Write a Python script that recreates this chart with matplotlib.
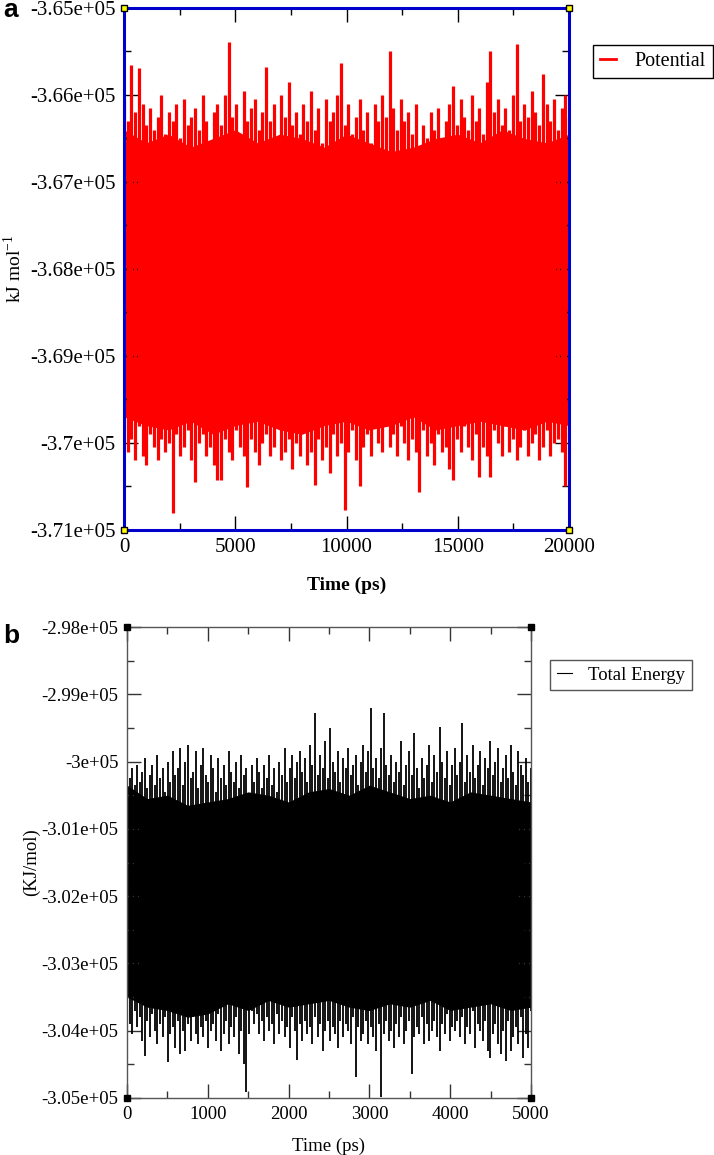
import numpy as np
import matplotlib
matplotlib.use('Agg')
import matplotlib.pyplot as plt
from matplotlib.lines import Line2D
from matplotlib.ticker import MultipleLocator, FuncFormatter

plt.rcParams['font.family'] = ['Liberation Serif', 'DejaVu Serif']
plt.rcParams['mathtext.fontset'] = 'custom'
plt.rcParams['mathtext.rm'] = 'Liberation Serif'

# panel a: potential energy (x1000 kJ/mol), highest and lowest value in each time slot, 0-20000 ps
pot_t_end = 20000
pot_upper = [
    -366.05, -366.30, -365.66, -366.20, -365.69, -366.10, -366.35, -366.15, -366.40, -366.25,
    -366.00, -366.45, -366.20, -366.30, -366.10, -366.50, -366.05, -366.35, -366.25, -366.15,
    -366.40, -366.00, -366.30, -366.60, -366.20, -366.10, -366.35, -366.00, -365.39, -366.25,
    -366.10, -366.45, -365.95, -366.30, -366.15, -366.05, -366.40, -366.20, -365.68, -366.30,
    -366.10, -366.50, -366.00, -366.25, -365.85, -366.35, -366.20, -366.45, -366.10, -366.30,
    -365.95, -366.40, -366.15, -366.55, -366.05, -366.30, -366.20, -366.00, -365.63, -366.35,
    -366.10, -366.45, -366.25, -366.05, -366.40, -366.20, -366.55, -366.10, -366.30, -366.00,
    -366.25, -365.50, -366.15, -366.40, -366.05, -366.30, -366.20, -366.45, -366.10, -366.60,
    -366.35, -366.50, -366.20, -366.40, -366.15, -366.55, -366.30, -366.10, -365.90, -366.35,
    -366.05, -366.25, -366.40, -366.00, -366.30, -366.15, -366.45, -365.85, -365.50, -366.20,
    -366.05, -366.35, -366.15, -366.40, -366.00, -365.41, -366.30, -366.10, -366.25, -365.95,
    -366.20, -366.35, -365.76, -366.10, -366.30, -366.05, -366.40, -366.15, -366.00, -366.25,
]
pot_lower = [
    -369.85, -370.10, -369.95, -370.20, -369.80, -370.15, -370.25, -369.90, -370.05, -370.20,
    -369.95, -370.10, -370.00, -370.80, -369.90, -370.15, -370.05, -369.85, -370.20, -370.45,
    -370.00, -369.90, -370.15, -370.05, -370.25, -370.43, -370.43, -369.95, -370.10, -370.20,
    -369.85, -370.05, -370.15, -370.51, -369.95, -370.10, -370.25, -370.00, -369.90, -370.15,
    -370.05, -369.80, -370.20, -370.10, -369.95, -370.30, -370.00, -370.15, -369.85, -370.25,
    -370.10, -370.48, -369.95, -370.20, -370.05, -370.35, -369.90, -370.15, -370.00, -370.77,
    -370.10, -369.85, -370.20, -370.50, -370.05, -369.90, -370.15, -369.80, -370.00, -370.10,
    -369.75, -370.05, -369.90, -370.15, -369.80, -370.00, -370.20, -369.95, -370.10, -370.56,
    -369.85, -370.15, -370.00, -370.25, -369.90, -370.10, -370.05, -370.30, -370.43, -369.95,
    -370.10, -369.80, -370.05, -370.20, -369.90, -370.39, -370.05, -370.15, -370.39, -369.85,
    -370.00, -370.15, -369.80, -370.10, -369.95, -370.20, -370.05, -369.85, -370.15, -370.00,
    -369.90, -370.20, -370.05, -369.85, -370.15, -370.00, -369.95, -370.10, -370.50, -369.95,
]
# edges of the solid part of the trace, every 1000 ps
pot_core_top = [-366.40, -366.55, -366.45, -366.60, -366.50, -366.40, -366.55, -366.45, -366.50,
                -366.60, -366.45, -366.55, -366.65, -366.60, -366.50, -366.45, -366.55, -366.40,
                -366.50, -366.55, -366.45]
pot_core_bot = [-369.70, -369.80, -369.85, -369.75, -369.90, -369.80, -369.75, -369.85, -369.90,
                -369.80, -369.75, -369.85, -369.80, -369.70, -369.85, -369.80, -369.75, -369.80,
                -369.85, -369.75, -369.80]

# panel b: total energy (x1000 kJ/mol), 0-5000 ps
tot_t_end = 5000
tot_upper = [
    -300.00, -300.25, -300.10, -300.35, -300.05, -300.30, -300.15, -299.95, -300.40, -300.20,
    -300.05, -300.35, -299.90, -300.25, -300.10, -300.45, -300.00, -300.30, -299.85, -300.20,
    -300.10, -299.80, -300.35, -300.00, -299.75, -300.25, -300.15, -299.85, -300.40, -300.05,
    -299.80, -300.20, -300.30, -299.90, -300.10, -300.45, -299.95, -300.25, -300.05, -300.35,
    -299.85, -300.15, -300.30, -300.00, -300.40, -299.90, -300.20, -300.10, -300.50, -300.05,
    -300.30, -299.95, -300.15, -300.40, -300.05, -300.25, -299.90, -300.35, -300.10, -300.45,
    -300.00, -300.20, -299.80, -300.30, -300.10, -299.90, -300.25, -300.00, -299.85, -300.15,
    -299.95, -300.30, -299.75, -300.05, -299.28, -300.20, -299.90, -300.10, -299.70, -300.25,
    -299.50, -300.00, -300.15, -299.85, -300.30, -299.95, -300.10, -299.80, -300.20, -300.05,
    -299.90, -300.35, -300.00, -299.75, -300.15, -299.85, -299.20, -300.10, -299.95, -300.25,
    -299.80, -299.28, -300.05, -300.20, -299.90, -300.30, -300.00, -300.15, -299.70, -300.35,
    -300.05, -299.85, -300.20, -299.58, -300.10, -300.40, -299.95, -300.25, -300.05, -299.75,
    -300.30, -299.90, -300.15, -299.48, -300.00, -300.25, -299.85, -300.35, -300.05, -299.80,
    -300.20, -300.00, -299.42, -300.30, -299.90, -300.15, -299.75, -300.25, -300.05, -299.85,
    -300.35, -299.95, -300.10, -299.70, -300.20, -300.00, -299.80, -300.30, -300.10, -299.90,
    -300.25, -299.75, -300.15, -300.35, -299.85, -300.05, -300.20, -299.95, -300.30, -300.10,
]
tot_lower = [
    -303.40, -303.90, -304.05, -303.70, -303.95, -303.80, -304.15, -304.37, -303.85, -304.10,
    -303.75, -304.00, -304.20, -303.90, -304.10, -303.80, -304.47, -304.05, -303.95, -304.25,
    -303.85, -304.35, -304.00, -304.30, -303.90, -304.15, -303.80, -304.05, -304.20, -303.95,
    -304.10, -303.85, -304.25, -304.00, -303.90, -304.15, -303.75, -304.30, -304.05, -303.85,
    -304.20, -303.95, -304.10, -303.80, -304.35, -304.00, -304.50, -304.91, -304.05, -303.70,
    -303.90, -303.75, -304.05, -303.85, -304.15, -303.80, -304.00, -303.90, -304.20, -303.75,
    -304.05, -303.85, -304.10, -303.95, -304.25, -303.80, -304.00, -304.44, -303.90, -304.15,
    -303.85, -304.05, -303.95, -304.20, -303.80, -304.10, -303.90, -304.30, -304.00, -303.85,
    -304.15, -303.95, -304.05, -304.25, -303.85, -304.10, -303.90, -304.00, -304.20, -303.80,
    -304.69, -303.95, -304.15, -304.05, -303.85, -304.20, -303.95, -304.10, -304.30, -303.90,
    -304.98, -304.05, -303.85, -304.15, -304.00, -304.25, -303.90, -304.10, -303.80, -304.20,
    -304.00, -303.85, -304.64, -304.10, -303.95, -304.05, -303.80, -304.20, -303.90, -304.15,
    -304.00, -303.85, -304.10, -304.30, -303.90, -304.05, -303.75, -304.15, -303.95, -304.00,
    -303.85, -304.10, -303.80, -304.20, -303.95, -304.05, -303.70, -304.25, -303.90, -304.00,
    -304.15, -303.85, -304.30, -304.40, -304.05, -303.90, -304.20, -304.35, -304.00, -304.45,
    -303.85, -304.30, -304.10, -303.95, -304.20, -303.80, -304.40, -304.05, -304.25, -303.70,
]
# edges of the solid part, every 250 ps
tot_core_top = [-300.35, -300.55, -300.50, -300.65, -300.60, -300.55, -300.45, -300.50, -300.60,
                -300.45, -300.40, -300.50, -300.35, -300.45, -300.55, -300.50, -300.60, -300.45,
                -300.50, -300.55, -300.60]
tot_core_bot = [-303.50, -303.65, -303.70, -303.80, -303.75, -303.60, -303.70, -303.55, -303.65,
                -303.60, -303.55, -303.65, -303.70, -303.60, -303.65, -303.55, -303.70, -303.65,
                -303.60, -303.70, -303.65]


def draw_trace(ax, t_end, upper, lower, core_top, core_bot, color, lw):
    t = np.linspace(0, t_end, len(upper))
    ax.vlines(t, np.array(lower) * 1000, np.array(upper) * 1000, color=color, lw=lw)
    tc = np.linspace(0, t_end, len(core_top))
    ax.fill_between(tc, np.array(core_bot) * 1000, np.array(core_top) * 1000,
                    color=color, lw=0)


def style(ax, spine_c, spine_w, tick_c, corner_c, fs):
    for s in ax.spines.values():
        s.set_color(spine_c)
        s.set_linewidth(spine_w)
    ax.tick_params(which='both', direction='in', top=True, right=True,
                   colors=tick_c, labelcolor='black', labelsize=fs, pad=6)
    ax.tick_params(which='major', length=10, width=1)
    ax.tick_params(which='minor', length=5, width=1)
    ax.yaxis.set_major_formatter(FuncFormatter(lambda v, p: '{:.3g}'.format(v)))
    ax.plot([0, 1, 0, 1], [0, 0, 1, 1], ls='none', marker='s', ms=5,
            mfc=corner_c, mec='black', mew=1, transform=ax.transAxes,
            clip_on=False, zorder=6)


fig = plt.figure(figsize=(7.14, 11.55), dpi=100)

# ---- a ----
ax1 = fig.add_axes([124 / 714, 1 - 530 / 1155, 445 / 714, 522 / 1155])
draw_trace(ax1, pot_t_end, pot_upper, pot_lower, pot_core_top, pot_core_bot, '#ff0000', 2.3)
ax1.set_xlim(0, 20000)
ax1.set_ylim(-371000, -365000)
ax1.xaxis.set_major_locator(MultipleLocator(5000))
ax1.xaxis.set_minor_locator(MultipleLocator(2500))
ax1.yaxis.set_major_locator(MultipleLocator(1000))
ax1.yaxis.set_minor_locator(MultipleLocator(500))
style(ax1, '#0000cc', 2.2, 'black', 'yellow', 15)
ax1.set_xlabel('Time (ps)', fontsize=14, fontweight='bold', labelpad=14)
ax1.set_ylabel('kJ mol$^{\\mathregular{-1}}$', fontsize=14)
ax1.yaxis.set_label_coords(-0.222, 0.5)
ax1.legend(handles=[Line2D([], [], color='#ff0000', lw=2)], labels=['Potential'],
           loc='upper left', bbox_to_anchor=(593 / 714, 1 - 45 / 1155),
           bbox_transform=fig.transFigure, borderaxespad=0, fancybox=False,
           edgecolor='black', framealpha=1, fontsize=14.5, handlelength=0.8,
           handletextpad=0.9, borderpad=0.35)

# ---- b ----
ax2 = fig.add_axes([127 / 714, 1 - 1098 / 1155, 404 / 714, 471 / 1155])
draw_trace(ax2, tot_t_end, tot_upper, tot_lower, tot_core_top, tot_core_bot, 'black', 1.3)
ax2.set_xlim(0, 5000)
ax2.set_ylim(-305000, -298000)
ax2.xaxis.set_major_locator(MultipleLocator(1000))
ax2.xaxis.set_minor_locator(MultipleLocator(500))
ax2.yaxis.set_major_locator(MultipleLocator(1000))
ax2.yaxis.set_minor_locator(MultipleLocator(500))
style(ax2, '#555555', 1.0, '#333333', 'black', 13.5)
ax2.set_xlabel('Time (ps)', fontsize=13.5, labelpad=10)
ax2.set_ylabel('(KJ/mol)', fontsize=13.5)
ax2.yaxis.set_label_coords(-0.215, 0.5)
ax2.legend(handles=[Line2D([], [], color='black', lw=0.8)], labels=['Total Energy'],
           loc='upper left', bbox_to_anchor=(550 / 714, 1 - 660 / 1155),
           bbox_transform=fig.transFigure, borderaxespad=0, fancybox=False,
           edgecolor='#555555', framealpha=1, fontsize=13.5, handlelength=0.8,
           handletextpad=0.9, borderpad=0.35)

fig.text(3 / 714, 1 - 17 / 1155, 'a', family='Liberation Sans', fontweight='bold',
         fontsize=19, ha='left', va='baseline')
fig.text(3 / 714, 1 - 643 / 1155, 'b', family='Liberation Sans', fontweight='bold',
         fontsize=19, ha='left', va='baseline')

fig.savefig('out.png', dpi=100)
